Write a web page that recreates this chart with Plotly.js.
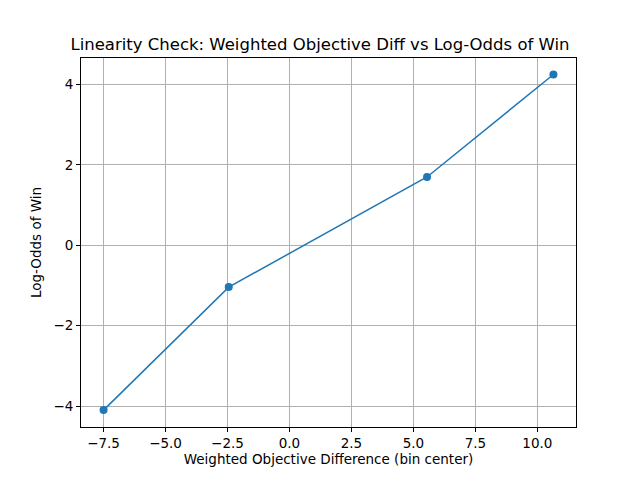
<!DOCTYPE html>
<html>
<head>
<script src="https://cdn.plot.ly/plotly-3.0.1.min.js"></script>
<style>body{margin:0}</style>
</head>
<body>
<div id="chart" style="width:640px;height:480px"></div>
<script>
// bin centers and log-odds
var bin_centers = [-7.5, -2.45, 5.55, 10.65];
var log_odds = [-4.1, -1.04, 1.7, 4.25];

var data = [{
    x: bin_centers,
    y: log_odds,
    type: 'scatter',
    mode: 'lines+markers',
    line: {color: '#1f77b4', width: 1.5},
    marker: {color: '#1f77b4', size: 8}
}];

var axisStyle = {
    showgrid: true, gridcolor: '#b0b0b0', gridwidth: 1,
    zeroline: false, showline: true, linecolor: 'black', linewidth: 1, mirror: true,
    ticks: 'outside', ticklen: 4, tickcolor: 'black',
    tickfont: {size: 13.5, color: 'black'}
};

var layout = {
    width: 640, height: 480,
    margin: {l: 81, r: 64, t: 58, b: 53},
    paper_bgcolor: 'white', plot_bgcolor: 'white',
    font: {family: 'DejaVu Sans', color: 'black'},
    title: {text: 'Linearity Check: Weighted Objective Diff vs Log-Odds of Win',
            font: {size: 16.5}, x: 0.5, xanchor: 'center', y: 0.895, yanchor: 'bottom'},
    showlegend: false,
    xaxis: Object.assign({}, axisStyle, {
        range: [-8.41, 11.56], tickvals: [-7.5, -5, -2.5, 0, 2.5, 5, 7.5, 10],
        tickformat: '.1f',
        title: {text: 'Weighted Objective Difference (bin center)', font: {size: 13.5}, standoff: 4}
    }),
    yaxis: Object.assign({}, axisStyle, {
        range: [-4.52, 4.66], tickvals: [-4, -2, 0, 2, 4],
        title: {text: 'Log-Odds of Win', font: {size: 13.5}, standoff: 8}
    })
};

Plotly.newPlot('chart', data, layout, {displayModeBar: false});
</script>
</body>
</html>
